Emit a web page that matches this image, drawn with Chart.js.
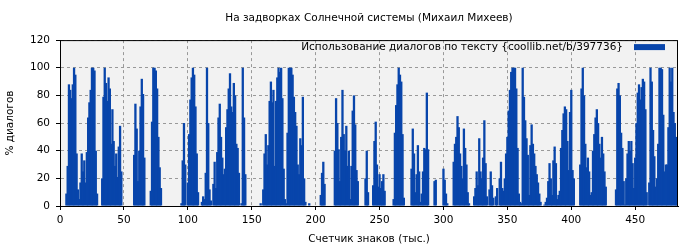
<!DOCTYPE html>
<html>
<head>
<meta charset="utf-8">
<script src="https://cdn.jsdelivr.net/npm/chart.js@4/dist/chart.umd.min.js"></script>
<style>
  body { margin: 0; background: #fff; }
</style>
</head>
<body>
<canvas id="dialog-chart" width="700" height="250"></canvas>
<script>
const CHART_TITLE = 'На задворках Солнечной системы (Михаил Михеев)';
const SERIES_LABEL = 'Использование диалогов по тексту {coollib.net/b/397736}';
const X_TITLE = 'Счетчик знаков (тыс.)';
const Y_TITLE = '% диалогов';
const X_TICKS = [0, 50, 100, 150, 200, 250, 300, 350, 400, 450];
const Y_TICKS = [0, 20, 40, 60, 80, 100, 120];

// % of dialogue per thousand characters, one value per thousand
const dialogShare = [
  // 0-48
  0, 0, 0, 0, 0, 9, 29, 88, 84, 78,
  88, 100, 95, 38, 12, 5, 17, 38, 25, 33,
  17, 39, 64, 75, 84, 100, 100, 98, 40, 9,
  0, 0, 0, 20, 79, 100, 89, 76, 93, 85,
  45, 70, 47, 29, 38, 21, 43, 58, 25,
  // 49-79
  0, 0, 0, 0, 0, 0, 0, 0, 0,
  37, 74, 56, 18, 40, 72, 92, 81, 35,
  0, 0, 0, 0,
  11, 61, 100, 100, 98, 85, 50, 28, 13,
  // 80-119
  0, 0, 0, 0, 0, 0, 0, 0, 0, 0, 0, 0, 0, 0, 0,
  2, 33, 60, 30, 0,
  17, 52, 77, 93, 100, 95, 72, 38, 10, 0, 0,
  3, 7, 5, 24, 100, 60, 12, 4, 0,
  // 120-158
  16, 32, 13, 39, 64, 74, 50, 35, 23, 27, 57, 70, 85, 96, 72, 68, 89, 80, 45, 42, 24, 0,
  2, 100, 64, 23, 0, 0, 0, 0, 0, 0, 0, 0, 0, 0, 0, 2, 0,
  // 159-192
  12, 38, 52, 30, 44, 76, 90, 75, 84, 29,
  76, 93, 100, 97, 100, 78, 27, 5, 2, 53,
  100, 100, 100, 95, 79, 68, 58, 30, 23, 49,
  44, 79, 20, 3,
  // 193-233
  0, 0, 2, 0, 0, 0, 0, 0, 0, 0, 0, 8, 24, 32, 16, 0, 0, 0, 0, 0, 0, 0,
  40, 78, 60, 41, 18, 50, 84, 52, 40, 58, 29, 40, 5, 29, 69, 80, 59, 26, 18,
  // 234-274
  0, 0, 0, 0, 0, 20, 40, 10, 0, 0, 0, 15, 47, 61, 30, 14, 23, 13, 18, 23, 11, 0, 0, 0, 0, 0, 0,
  5, 53, 73, 88, 100, 95, 90, 52, 6, 0, 0, 0, 0, 0,
  // 275-323
  27, 56, 38, 10, 23, 44, 25, 3, 9, 25, 42, 41, 82, 41, 0, 0, 0, 0, 18, 19, 0, 0, 0, 0, 0,
  27, 19, 9, 2, 0, 0, 0, 0, 32, 45, 50, 65, 57, 38, 29, 20, 56, 42, 30, 10, 2, 0, 0, 0,
  // 324-348
  7, 13, 25, 15, 49, 25, 20, 35, 62, 31, 7, 0, 12, 25, 15, 6, 0, 7, 13, 0, 20, 32, 13, 11, 20,
  // 349-398
  38, 50, 69, 84, 97, 100, 100, 100, 85, 42,
  9, 3, 2, 100, 79, 62, 49, 37, 8, 44,
  59, 45, 38, 29, 23, 17, 9, 3, 0, 0,
  1, 3, 6, 18, 31, 20, 8, 33, 43, 31,
  5, 8, 11, 42, 55, 67, 72, 70, 47, 26,
  // 399-448
  68, 84, 26, 20, 0, 0, 0, 0,
  30, 85, 100, 80, 45, 28, 35, 25, 8, 10, 40, 52, 64, 70, 60, 45, 35, 50, 38, 25, 14,
  0, 0, 0, 0, 0, 0, 0,
  12, 85, 89, 80, 53, 42, 18, 1, 20, 38, 47, 40, 47, 31,
  // 449-483
  13, 35, 60, 82, 88, 77, 86, 92, 90, 70,
  10, 0, 17, 100, 90, 55, 36, 14, 20, 45,
  100, 100, 99, 66, 25, 30, 30, 57, 100, 90,
  100, 68, 60, 50, 41
];

const BAR_COLOR = '#0845ab';
const FONT = { family: 'DejaVu Sans', size: 10.5 };

// plot background, frame and the legend sitting inside the plot (box to the right of the text)
const plotFrame = {
  id: 'plotFrame',
  beforeDraw(chart) {
    const { ctx, chartArea: a } = chart;
    ctx.save();
    ctx.fillStyle = '#f2f2f2';
    ctx.fillRect(a.left, a.top, a.right - a.left, a.bottom - a.top);
    ctx.restore();
  },
  afterDraw(chart) {
    const { ctx, chartArea: a } = chart;
    const ds = chart.data.datasets[0];
    ctx.save();
    ctx.strokeStyle = '#000';
    ctx.lineWidth = 1;
    ctx.strokeRect(a.left + 0.5, a.top + 0.5, a.right - a.left - 1, a.bottom - a.top);

    const boxRight = a.right - 13;
    const boxLeft = boxRight - 31;
    const midY = a.top + 7;
    ctx.fillStyle = ds.backgroundColor;
    ctx.fillRect(boxLeft, midY - 3, 31, 6);
    ctx.fillStyle = '#000';
    ctx.font = `${FONT.size}px "${FONT.family}"`;
    ctx.textAlign = 'right';
    ctx.textBaseline = 'middle';
    ctx.fillText(ds.label, boxLeft - 11, midY);
    ctx.restore();
  }
};

const points = dialogShare.map((v, i) => ({ x: i, y: v }));

new Chart(document.getElementById('dialog-chart'), {
  type: 'bar',
  data: {
    datasets: [{
      label: SERIES_LABEL,
      data: points,
      backgroundColor: BAR_COLOR,
      borderWidth: 0,
      // wider than the slot so the antialiased edges of neighbours don't leave seams
      barPercentage: 1.8,
      categoryPercentage: 1,
    }],
  },
  options: {
    responsive: false,
    animation: false,
    devicePixelRatio: 1,
    layout: { padding: { left: 0, right: 22, top: 0, bottom: 0 } },
    plugins: {
      title: {
        display: true,
        fullSize: false,
        text: CHART_TITLE,
        color: '#000',
        font: { ...FONT, weight: 'normal' },
        padding: { top: 12, bottom: 15.5 },
      },
      legend: { display: false },
      tooltip: { enabled: false },
    },
    scales: {
      x: {
        type: 'linear',
        offset: false,
        min: 0,
        max: 483.5,
        afterFit: (s) => { s.height = 44; },
        afterBuildTicks: (s) => { s.ticks = X_TICKS.map((v) => ({ value: v })); },
        ticks: { color: '#000', font: FONT, padding: 4, maxRotation: 0 },
        grid: {
          offset: false,
          color: '#999',
          tickColor: '#000',
          tickLength: 4,
        },
        border: { color: '#000', dash: [3, 3] },
        title: { display: true, text: X_TITLE, color: '#000', font: FONT },
      },
      y: {
        min: 0,
        max: 120,
        afterFit: (s) => { s.width = 60; },
        afterBuildTicks: (s) => { s.ticks = Y_TICKS.map((v) => ({ value: v })); },
        ticks: { color: '#000', font: FONT, padding: 6 },
        grid: {
          color: '#999',
          tickColor: '#000',
          tickLength: 4,
        },
        border: { color: '#000', dash: [3, 3] },
        title: { display: true, text: Y_TITLE, color: '#000', font: FONT },
      },
    },
  },
  plugins: [plotFrame],
});
</script>
</body>
</html>
